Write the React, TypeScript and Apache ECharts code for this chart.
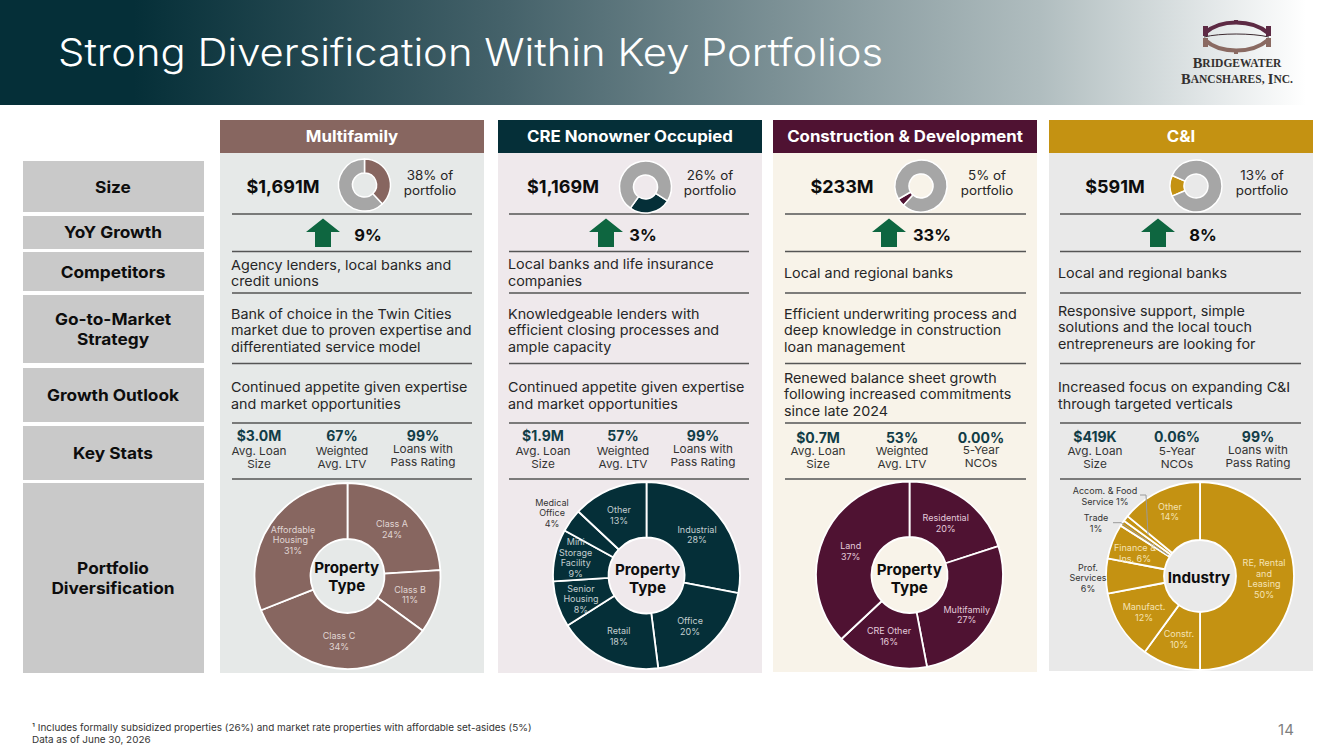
import React, { useEffect, useRef } from "react";
import * as echarts from "echarts";

const FONT = "Inter";

// ---- data ----
const panelTitles = ["Multifamily", "CRE Nonowner Occupied", "Construction & Development", "C&I"];
const rowTitles = ["Size", "YoY Growth", "Competitors", "Go-to-Market\nStrategy", "Growth Outlook", "Key Stats", "Portfolio\nDiversification"];
const sizes = ["$1,691M", "$1,169M", "$233M", "$591M"];
const portfolioShare = [38, 26, 5, 13];
const yoyGrowth = ["9%", "3%", "33%", "8%"];
const competitors = [
  "Agency lenders, local banks and\ncredit unions",
  "Local banks and life insurance\ncompanies",
  "Local and regional banks",
  "Local and regional banks",
];
const strategy = [
  "Bank of choice in the Twin Cities\nmarket due to proven expertise and\ndifferentiated service model",
  "Knowledgeable lenders with\nefficient closing processes and\nample capacity",
  "Efficient underwriting process and\ndeep knowledge in construction\nloan management",
  "Responsive support, simple\nsolutions and the local touch\nentrepreneurs are looking for",
];
const outlook = [
  "Continued appetite given expertise\nand market opportunities",
  "Continued appetite given expertise\nand market opportunities",
  "Renewed balance sheet growth\nfollowing increased commitments\nsince late 2024",
  "Increased focus on expanding C&I\nthrough targeted verticals",
];
const statValues = [
  ["$3.0M", "67%", "99%"],
  ["$1.9M", "57%", "99%"],
  ["$0.7M", "53%", "0.00%"],
  ["$419K", "0.06%", "99%"],
];
const statLabels = [
  ["Avg. Loan\nSize", "Weighted\nAvg. LTV", "Loans with\nPass Rating"],
  ["Avg. Loan\nSize", "Weighted\nAvg. LTV", "Loans with\nPass Rating"],
  ["Avg. Loan\nSize", "Weighted\nAvg. LTV", "5-Year\nNCOs"],
  ["Avg. Loan\nSize", "5-Year\nNCOs", "Loans with\nPass Rating"],
];
const centerLabels = ["Property\nType", "Property\nType", "Property\nType", "Industry"];

const multifamilyNames = ["Class A", "Class B", "Class C", "Affordable\nHousing ¹"];
const multifamilyValues = [24, 11, 34, 31];
const creNames = ["Industrial", "Office", "Retail", "Senior\nHousing", "Mini\nStorage\nFacility", "Medical\nOffice", "Other"];
const creValues = [28, 20, 18, 8, 9, 4, 13];
const constructionNames = ["Residential", "Multifamily", "CRE Other", "Land"];
const constructionValues = [20, 27, 16, 37];
const cniNames = ["RE, Rental\nand\nLeasing", "Constr.", "Manufact.", "Prof.\nServices", "Finance &\nIns.", "Trade", "Accom. & Food\nService", "Other"];
const cniValues = [50, 10, 12, 6, 6, 1, 1, 14];

const footnotes = "¹ Includes formally subsidized properties (26%) and market rate properties with affordable set-asides (5%)\nData as of June 30, 2026";

// ---- layout and styles, separate from the data ----
const panelX = [220, 498, 773, 1049];
const panelBottom = [673, 673, 672, 671];
const panelBg = ["#e6e9e8", "#efe9ec", "#f8f3e9", "#e9e9e9"];
const panelColor = ["#876660", "#052f38", "#4f1232", "#c49212"];
const labelLight = ["#e0d6d4", "#c3ced0", "#e3cbdb", "#f5e3b5"];
const lineSpan = [[232, 472], [509, 749], [785, 1026], [1060, 1301]];
const rowBoxes = [[161, 212], [216, 249], [252, 291], [295, 363], [368, 422], [426, 480], [483, 673]];
const rowTextY = [187, 232, 272.5, 329, 395, 453.5, 578.5];
const separators = [214, 251.5, 293, 363.5, 423, 479];
const sizeX = [283, 563, 842, 1115];
const shareTextX = [430, 710, 987, 1262];
const miniX = [364.5, 645.5, 921, 1196];
const miniY = [185, 187, 186, 186];
const miniStart = [90, -32, -132, -157];
const arrowX = [323, 606, 889, 1158];
const growthX = [368, 643, 932, 1203];
const competitorY = [272.5, 272, 273, 273];
const strategyY = [330, 330, 330, 327];
const outlookY = [395, 395, 394, 395];
const textX = [231, 508, 784, 1058];
const statX = [[259, 342, 423], [543, 623, 703], [818, 902, 981], [1095, 1177, 1258]];
const statValueY = [435, 435, 437, 436.5];
const statLabelY = [[457.5, 457.5, 456], [457.5, 457.5, 456], [457.5, 457.5, 456.5], [457.5, 457.5, 457]];
const pieX = [347.5, 646.5, 909.5, 1200];
const pieY = [576, 575.5, 575, 576];
const pieR = [[37, 93], [38, 93.5], [38, 93.5], [36, 94]];
const pieTextX = [346.7, 647.5, 909.3, 1199];
const pieTextY = [576, 578, 578, 577];

const labelAnchors = [
  [[392, 529], [410, 594.5], [339, 641], [293, 539.5]],
  [[697, 534.7], [690, 626], [618.7, 636], [581, 598.5], [575.7, 557.5], [552, 512.5], [619, 515]],
  [[945.7, 523], [966.7, 614.7], [889, 636], [850.7, 551]],
  [[1264, 578.7], [1179, 639], [1144, 612], [1088, 577.7], [1135, 553], [1096, 523], [1105, 496], [1170, 511.5]],
];

const allNames = [multifamilyNames, creNames, constructionNames, cniNames];
const allValues = [multifamilyValues, creValues, constructionValues, cniValues];

const outsideLabels: Record<number, number[]> = { 1: [5], 3: [3, 5, 6] };
const inlineValueNames = ["Finance &\nIns.", "Accom. & Food\nService"];

function txt(x: number, y: number, text: string, o: any = {}) {
  return {
    type: "text",
    z: o.z ?? 5,
    x,
    y,
    scaleX: o.sx ?? 1,
    style: {
      x: 0,
      y: 0,
      text,
      fill: o.fill ?? "#262626",
      fontFamily: o.family ?? FONT,
      fontSize: o.size ?? 13,
      fontWeight: o.weight ?? 400,
      align: o.align ?? "center",
      verticalAlign: "middle",
      lineHeight: o.lh ?? 16.7,
      rich: o.rich,
    },
  };
}

function buildGraphics() {
  const g: any[] = [];
  g.push({
    type: "rect", z: 1,
    shape: { x: 0, y: 0, width: 1333, height: 105 },
    style: {
      fill: new echarts.graphic.LinearGradient(0, 0, 1, 0, [
        { offset: 0, color: "#052f38" },
        { offset: 0.1, color: "#052f38" },
        { offset: 0.38, color: "#45626a" },
        { offset: 0.78, color: "#b0bdbf" },
        { offset: 0.98, color: "#ffffff" },
        { offset: 1, color: "#ffffff" },
      ]),
    },
  });
  g.push(txt(58, 52, "Strong Diversification Within Key Portfolios", { size: 38.5, sx: 1.085, fill: "#ffffff", weight: 300, align: "left", lh: 46 }));
  // logo
  g.push({ type: "bezierCurve", z: 5, shape: { x1: 1205, y1: 33, x2: 1268, y2: 33, cpx1: 1220, cpy1: 19, cpx2: 1252, cpy2: 19 }, style: { stroke: "#5d2a44", lineWidth: 4, fill: "none" } });
  g.push({ type: "bezierCurve", z: 5, shape: { x1: 1204, y1: 37, x2: 1269, y2: 37, cpx1: 1220, cpy1: 33, cpx2: 1252, cpy2: 33 }, style: { stroke: "#3c2a30", lineWidth: 1, fill: "none" } });
  g.push({ type: "bezierCurve", z: 5, shape: { x1: 1205, y1: 40, x2: 1268, y2: 40, cpx1: 1220, cpy1: 54, cpx2: 1252, cpy2: 54 }, style: { stroke: "#8a6a62", lineWidth: 4, fill: "none" } });
  [[1203, 26], [1266, 26]].forEach(([x, y]) => g.push({ type: "rect", z: 5, shape: { x, y, width: 5, height: 10 }, style: { fill: "#5d2a44" } }));
  [[1203, 38], [1266, 38]].forEach(([x, y]) => g.push({ type: "rect", z: 5, shape: { x, y, width: 5, height: 9 }, style: { fill: "#8a6a62" } }));
  g.push({ type: "rect", z: 5, shape: { x: 1234, y: 20, width: 4, height: 4 }, style: { fill: "#5d2a44" } });
  g.push({ type: "rect", z: 5, shape: { x: 1234, y: 49, width: 4, height: 5 }, style: { fill: "#8a6a62" } });
  const capsRich = {
    a: { fontFamily: "Liberation Serif", fontSize: 14.5, fontWeight: 700, fill: "#33302f", color: "#33302f" },
    b: { fontFamily: "Liberation Serif", fontSize: 11.5, fontWeight: 700, fill: "#33302f", color: "#33302f" },
  };
  g.push(txt(1237, 63, "{a|B}{b|RIDGEWATER}", { rich: capsRich, family: "Liberation Serif", fill: "#33302f" }));
  g.push(txt(1237, 79, "{a|B}{b|ANCSHARES,} {a|I}{b|NC.}", { rich: capsRich, family: "Liberation Serif", fill: "#33302f" }));

  rowTitles.forEach((t, i) => {
    const [a, b] = rowBoxes[i];
    g.push({ type: "rect", z: 1, shape: { x: 23, y: a, width: 181, height: b - a }, style: { fill: "#c9c9c9" } });
    g.push(txt(113, rowTextY[i], t, { size: 16.3, sx: 1.06, weight: 700, fill: "#0d0d0d", lh: 20 }));
  });

  panelTitles.forEach((title, i) => {
    const x = panelX[i];
    g.push({ type: "rect", z: 1, shape: { x, y: 153, width: 264, height: panelBottom[i] - 153 }, style: { fill: panelBg[i] } });
    g.push({ type: "rect", z: 1, shape: { x, y: 120, width: 264, height: 33 }, style: { fill: panelColor[i] } });
    g.push(txt(x + 132, 136.5, title, { size: 15.5, sx: 1.085, weight: 700, fill: "#ffffff" }));
    separators.forEach((y) => {
      g.push({ type: "line", z: 2, shape: { x1: lineSpan[i][0], y1: y, x2: lineSpan[i][1], y2: y }, style: { stroke: "#555555", lineWidth: 1.5 } });
    });
    g.push(txt(sizeX[i], 186, sizes[i], { size: 18, weight: 700, fill: "#0d0d0d" }));
    g.push(txt(shareTextX[i], 183, `${portfolioShare[i]}% of\nportfolio`, { size: 12.5, sx: 1.07, lh: 15 }));
    const a = arrowX[i];
    g.push({
      type: "polygon", z: 3,
      shape: { points: [[a, 218.5], [a + 17, 232], [a + 8, 232], [a + 8, 247], [a - 8, 247], [a - 8, 232], [a - 17, 232]] },
      style: { fill: "#0e6640" },
    });
    g.push(txt(growthX[i], 235, yoyGrowth[i], { size: 16.5, weight: 700, fill: "#0d0d0d" }));
    g.push(txt(textX[i], competitorY[i], competitors[i], { size: 13.8, sx: 1.04, align: "left" }));
    g.push(txt(textX[i], strategyY[i], strategy[i], { size: 13.8, sx: 1.04, align: "left" }));
    g.push(txt(textX[i], outlookY[i], outlook[i], { size: 13.8, sx: 1.04, align: "left" }));
    statValues[i].forEach((v, j) => {
      g.push(txt(statX[i][j], statValueY[i], v, { size: 14, weight: 700, fill: "#123d47", lh: 14 }));
      g.push(txt(statX[i][j], statLabelY[i][j], statLabels[i][j], { size: 11, sx: 1.07, lh: 13, fill: "#333333" }));
    });
    g.push(txt(pieTextX[i], pieTextY[i], centerLabels[i], { size: 15.2, weight: 700, fill: "#0d0d0d", lh: 18, z: 20 }));
  });

  // C&I leader lines
  g.push({ type: "polyline", z: 20, shape: { points: [[1113, 522.7], [1121, 522.7], [1168, 555]] }, style: { stroke: "#9a9a9a", lineWidth: 1, fill: "none" } });
  g.push({ type: "polyline", z: 20, shape: { points: [[1140, 495], [1146, 495], [1148, 535]] }, style: { stroke: "#9a9a9a", lineWidth: 1, fill: "none" } });

  g.push(txt(32, 734, footnotes, { size: 9.5, sx: 1.045, align: "left", lh: 12, fill: "#333333" }));
  g.push(txt(1286, 729, "14", { size: 15, fill: "#7f7f7f" }));
  return g;
}

function buildSeries() {
  const series: any[] = [];
  panelTitles.forEach((_, i) => {
    series.push({
      type: "pie",
      silent: true,
      z: 3,
      center: [miniX[i], miniY[i]],
      radius: [12, 26],
      startAngle: miniStart[i],
      clockwise: true,
      label: { show: false },
      labelLine: { show: false },
      itemStyle: { borderColor: "#ffffff", borderWidth: 1.5 },
      emphasis: { disabled: true },
      data: [
        { value: portfolioShare[i], itemStyle: { color: panelColor[i] } },
        { value: 100 - portfolioShare[i], itemStyle: { color: "#a6a6a6" } },
      ],
    });
    const names = allNames[i];
    const outside = outsideLabels[i] ?? [];
    series.push({
      type: "pie",
      silent: true,
      z: 3,
      center: [pieX[i], pieY[i]],
      radius: pieR[i],
      startAngle: 90,
      clockwise: true,
      avoidLabelOverlap: false,
      itemStyle: { color: panelColor[i], borderColor: "#ffffff", borderWidth: 1.8 },
      emphasis: { disabled: true },
      labelLine: { show: false },
      label: {
        show: true,
        position: "inside",
        fontFamily: FONT,
        fontSize: 9,
        lineHeight: 10.5,
        textBorderWidth: 0,
        formatter: (p: any) => `${p.name}${inlineValueNames.includes(p.name) ? " " : "\n"}${p.value}%`,
      },
      labelLayout: (p: any) => ({
        x: labelAnchors[i][p.dataIndex][0],
        y: labelAnchors[i][p.dataIndex][1],
        align: "center",
        verticalAlign: "middle",
      }),
      data: names.map((name, k) => ({
        name,
        value: allValues[i][k],
        label: { color: outside.includes(k) ? "#333333" : labelLight[i] },
      })),
    });
  });
  return series;
}

export default function App() {
  const ref = useRef<HTMLDivElement>(null);
  useEffect(() => {
    document.body.style.margin = "0";
    const chart = echarts.init(ref.current!, undefined, { renderer: "svg" });
    chart.setOption({
      animation: false,
      backgroundColor: "#ffffff",
      graphic: { elements: buildGraphics() },
      series: buildSeries(),
    });
    return () => chart.dispose();
  }, []);
  return <div ref={ref} style={{ width: 1333, height: 749 }} />;
}
